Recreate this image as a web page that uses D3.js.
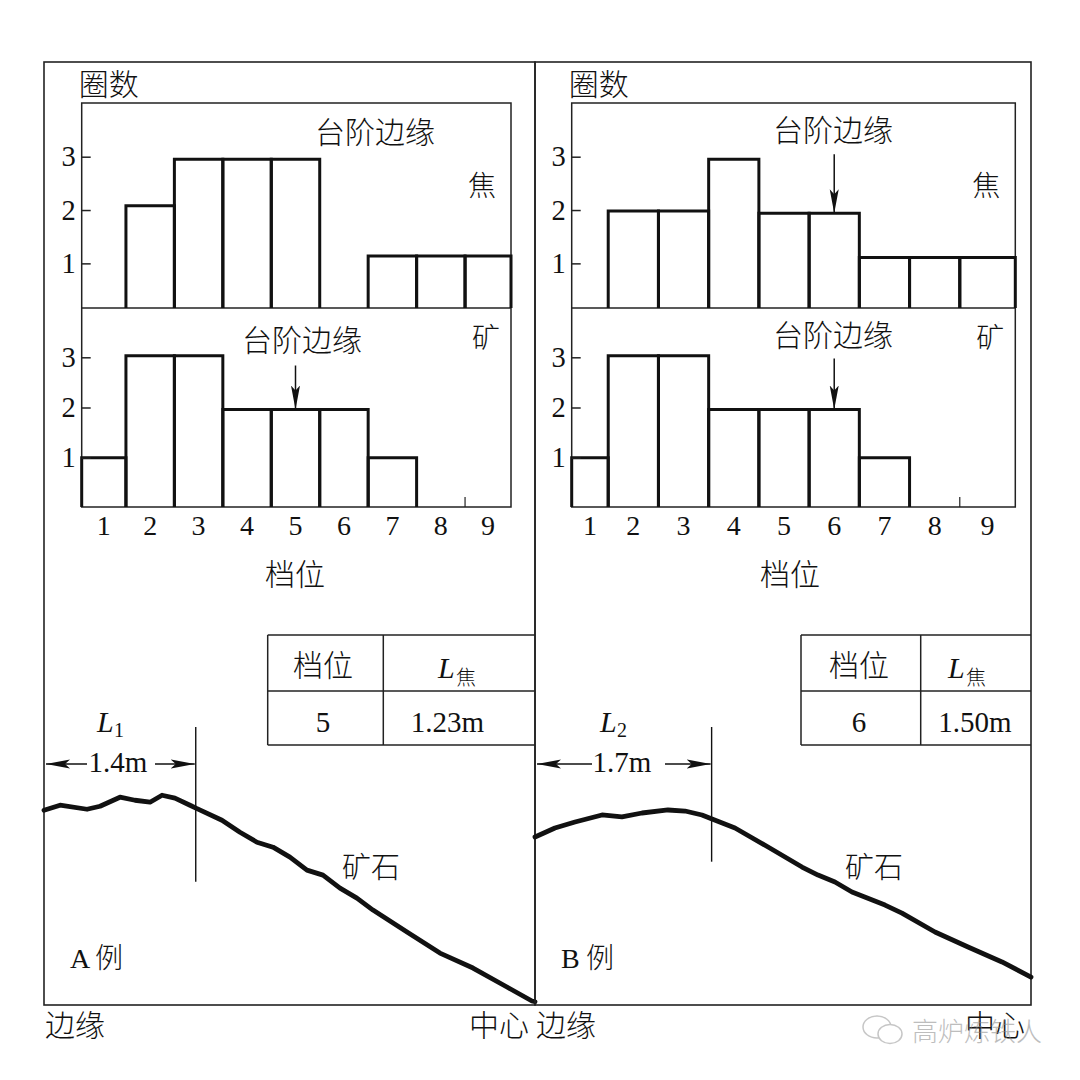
<!DOCTYPE html>
<html>
<head>
<meta charset="utf-8">
<script src="https://cdn.jsdelivr.net/npm/d3@7"></script>
<style>body{margin:0;background:#fff}</style>
</head>
<body>
<div id="chart"></div>
<script>
// 档位 1..9, 圈数 per 档位
var bins = [1, 2, 3, 4, 5, 6, 7, 8, 9];
var yTicks = [1, 2, 3];
var cokeA = [0, 2.08, 2.95, 2.95, 2.95, 0, 1.14, 1.14, 1.14];
var oreA  = [1, 3.03, 3.03, 1.96, 1.96, 1.96, 1, 0, 0];
var cokeB = [0, 1.98, 1.98, 2.95, 1.94, 1.94, 1.11, 1.11, 1.11];
var oreB  = [1, 3.03, 3.03, 1.96, 1.96, 1.96, 1, 0, 0];

var tableHead = ["档位", "L", "焦"];
var tableA = ["5", "1.23m"];
var tableB = ["6", "1.50m"];

// 台阶边缘 distance from the wall, m
var L1 = 1.4, L2 = 1.7;

// ore surface profiles: [distance from wall m, height m]
var profA = [[0,1.797],[0.148,1.843],[0.397,1.806],[0.517,1.834],[0.701,1.917],[0.839,1.889],
  [0.978,1.871],[1.089,1.935],[1.208,1.908],[1.347,1.843],[1.402,1.816],[1.642,1.705],
  [1.808,1.594],[1.965,1.502],[2.113,1.456],[2.269,1.364],[2.426,1.244],[2.574,1.198],
  [2.731,1.078],[2.887,0.986],[3.035,0.876],[3.349,0.673],[3.653,0.479],[3.958,0.341],
  [4.271,0.166],[4.502,0.037],[4.53,0.03]];
var profB = [[0,1.617],[0.192,1.704],[0.385,1.761],[0.645,1.829],[0.837,1.810],[1.030,1.848],
  [1.280,1.877],[1.444,1.867],[1.607,1.829],[1.704,1.790],[1.925,1.704],[2.243,1.521],
  [2.570,1.328],[2.724,1.251],[2.887,1.184],[3.051,1.088],[3.369,0.962],[3.532,0.885],
  [3.850,0.703],[4.168,0.558],[4.495,0.414],[4.774,0.269]];

var serif = "'Liberation Serif','Times New Roman',serif";
var cjk = "'Noto Sans CJK SC','Noto Sans CJK JP',sans-serif";
var ink = "#111";

var svg = d3.select("#chart").append("svg")
    .attr("width", 1080)
    .attr("height", 1080);
svg.append("rect").attr("width", 1080).attr("height", 1080).attr("fill", "#fff");

var defs = svg.append("defs");
defs.append("marker")
    .attr("id", "arr")
    .attr("viewBox", "0 0 24 10")
    .attr("refX", 24).attr("refY", 5)
    .attr("markerWidth", 24).attr("markerHeight", 10)
    .attr("markerUnits", "userSpaceOnUse")
    .attr("orient", "auto")
  .append("path")
    .attr("d", "M0,0.5 L24,5 L0,9.5 L5,5 z")
    .attr("fill", ink);

function txt(g, s, x, y, size, font, anchor) {
  var t = g.append("text")
    .attr("x", x).attr("y", y)
    .attr("font-size", size)
    .attr("font-family", font)
    .attr("text-anchor", anchor || "start")
    .attr("fill", ink)
    .text(s);
  if (font === cjk) t.attr("font-weight", 300);
  return t;
}

function drawPanel(p) {
  var g = svg.append("g");

  g.append("rect")
    .attr("x", p.left).attr("y", 62)
    .attr("width", p.right - p.left).attr("height", 1005 - 62)
    .attr("fill", "none").attr("stroke", "#222").attr("stroke-width", 1.6);

  var x = d3.scaleBand().domain(bins).range([p.bandL, p.bandR]).padding(0);
  var binL = function(d) { return d === bins[0] ? p.boxL : x(d); };
  var binR = function(d) { return d === bins[bins.length - 1] ? p.boxR : x(d) + x.bandwidth(); };
  var yCoke = d3.scaleLinear().domain([0, 3]).range([316.7, 156.7]);
  var yOre = d3.scaleLinear().domain([0, 3]).range([507.9, 357.3]);

  // frame of the two histograms
  g.append("rect")
    .attr("x", p.boxL).attr("y", 103)
    .attr("width", p.boxR - p.boxL).attr("height", 507 - 103)
    .attr("fill", "none").attr("stroke", "#222").attr("stroke-width", 1.5);
  g.append("line")
    .attr("x1", p.boxL).attr("x2", p.boxR).attr("y1", 308).attr("y2", 308)
    .attr("stroke", "#222").attr("stroke-width", 1.5);

  [[p.coke, yCoke, 308], [p.ore, yOre, 507]].forEach(function(s) {
    var vals = s[0], y = s[1], base = s[2];
    var data = bins.map(function(b, i) { return {bin: b, v: vals[i]}; })
      .filter(function(d) { return d.v > 0; });
    g.selectAll(null).data(data).enter().append("path")
      .attr("d", function(d) {
        return "M" + binL(d.bin) + "," + base + "V" + y(d.v) + "H" + binR(d.bin) + "V" + base;
      })
      .attr("fill", "none").attr("stroke", ink).attr("stroke-width", 3)
      .attr("stroke-linejoin", "miter");
  });

  [yCoke, yOre].forEach(function(y) {
    var ax = g.append("g")
      .attr("transform", "translate(" + p.boxL + ",0)")
      .call(d3.axisLeft(y).tickValues(yTicks).tickSizeInner(-9).tickSizeOuter(0)
        .tickPadding(6).tickFormat(d3.format("d")));
    ax.select(".domain").remove();
    ax.selectAll("line").attr("stroke", "#222").attr("stroke-width", 1.5);
    ax.selectAll("text").attr("font-family", serif).attr("font-size", 28.5).attr("fill", ink);
  });

  // 档位 labels
  g.selectAll(null).data(bins).enter().append("text")
    .attr("x", function(d) { return (binL(d) + binR(d)) / 2; })
    .attr("y", 535)
    .attr("text-anchor", "middle")
    .attr("font-family", serif).attr("font-size", 28).attr("fill", ink)
    .text(function(d) { return d; });
  g.append("line")
    .attr("x1", x(9)).attr("x2", x(9)).attr("y1", 497).attr("y2", 507)
    .attr("stroke", "#222").attr("stroke-width", 1.2);

  txt(g, "圈数", p.boxL - 3, 95, 30, cjk);
  txt(g, "台阶边缘", p.stepCokeX, p.stepCokeY, 30, cjk);
  txt(g, "焦", p.boxR - 43, 196, 28, cjk);
  txt(g, "台阶边缘", p.stepOreX, p.stepOreY, 30, cjk);
  txt(g, "矿", p.boxR - 39, 348, 28, cjk);
  txt(g, "档位", p.axisTitleX, 585, 30, cjk);

  p.arrows.forEach(function(a) {
    var y = a.chart === "coke" ? yCoke : yOre;
    var vals = a.chart === "coke" ? p.coke : p.ore;
    var cx = (binL(a.bin) + binR(a.bin)) / 2;
    var tip = y(vals[bins.indexOf(a.bin)]);
    g.append("line")
      .attr("x1", cx).attr("x2", cx).attr("y1", tip - a.len).attr("y2", tip)
      .attr("stroke", ink).attr("stroke-width", 1.5)
      .attr("marker-end", "url(#arr)");
  });

  // table
  var t = p.table;
  [635, 691, 745].forEach(function(yy) {
    g.append("line").attr("x1", t.x0).attr("x2", p.right).attr("y1", yy).attr("y2", yy)
      .attr("stroke", "#222").attr("stroke-width", 1.5);
  });
  [t.x0, t.x1].forEach(function(xx) {
    g.append("line").attr("x1", xx).attr("x2", xx).attr("y1", 635).attr("y2", 745)
      .attr("stroke", "#222").attr("stroke-width", 1.5);
  });
  txt(g, tableHead[0], t.c0, 676, 30, cjk, "middle");
  txt(g, tableHead[1], t.lx, 678, 30, serif).attr("font-style", "italic");
  txt(g, tableHead[2], t.lx + 18, 685, 20, cjk);
  txt(g, t.vals[0], t.c0, 732, 29, serif, "middle");
  txt(g, t.vals[1], t.c1, 732, 29, serif, "middle");

  // surface profile
  var xs = d3.scaleLinear().domain([0, p.radius]).range([p.left, p.right]);
  var k = (p.right - p.left) / p.radius;
  var ys = d3.scaleLinear().domain([0, 2]).range([1005, 1005 - 2 * k]);
  g.append("path")
    .datum(p.profile)
    .attr("d", d3.line().x(function(d) { return xs(d[0]); }).y(function(d) { return ys(d[1]); }))
    .attr("fill", "none").attr("stroke", ink).attr("stroke-width", 4.8)
    .attr("stroke-linejoin", "round").attr("stroke-linecap", "round");

  var xl = xs(p.L);
  g.append("line").attr("x1", xl).attr("x2", xl).attr("y1", 727).attr("y2", p.dimBottom)
    .attr("stroke", ink).attr("stroke-width", 1.4);
  g.append("line").attr("x1", p.arrL0).attr("x2", p.left + 2).attr("y1", 764).attr("y2", 764)
    .attr("stroke", ink).attr("stroke-width", 1.5).attr("marker-end", "url(#arr)");
  g.append("line").attr("x1", p.arrR0).attr("x2", xl - 1).attr("y1", 764).attr("y2", 764)
    .attr("stroke", ink).attr("stroke-width", 1.5).attr("marker-end", "url(#arr)");
  txt(g, p.L.toFixed(1) + "m", p.dimTextX, 772, 29, serif, "middle");
  txt(g, "L", p.lLabelX, 732, 30, serif).attr("font-style", "italic");
  txt(g, p.sub, p.lLabelX + 17, 737, 20, serif);

  txt(g, "矿石", p.oreTextX, 878, 29, cjk);
  txt(g, p.tag, p.left + 26, 968, 28, serif);
  txt(g, "例", p.left + 51, 968, 28, cjk);
  txt(g, "边缘", p.left + 1, 1036, 30, cjk);
  txt(g, "中心", p.right - 66, 1036, 30, cjk);
}

drawPanel({
  left: 44, right: 535, boxL: 81.7, boxR: 511, bandL: 77.5, bandR: 513.5,
  coke: cokeA, ore: oreA,
  stepCokeX: 315, stepCokeY: 143, stepOreX: 242, stepOreY: 351, axisTitleX: 265,
  arrows: [{chart: "ore", bin: 5, len: 44}],
  table: {x0: 267.7, x1: 383.3, c0: 323, c1: 447.5, lx: 438, vals: tableA},
  radius: 4.53, profile: profA, L: L1, sub: "1", dimBottom: 881.7,
  arrL0: 87, arrR0: 155, dimTextX: 118, lLabelX: 97,
  oreTextX: 342, tag: "A"
});

drawPanel({
  left: 535, right: 1031, boxL: 571.7, boxR: 1015.3, bandL: 558, bandR: 1010,
  coke: cokeB, ore: oreB,
  stepCokeX: 773, stepCokeY: 141, stepOreX: 773, stepOreY: 346, axisTitleX: 760,
  arrows: [{chart: "coke", bin: 6, len: 59}, {chart: "ore", bin: 6, len: 51}],
  table: {x0: 801, x1: 920.7, c0: 859, c1: 975, lx: 948, vals: tableB},
  radius: 4.774, profile: profB, L: L2, sub: "2", dimBottom: 861.7,
  arrL0: 592, arrR0: 665, dimTextX: 622, lLabelX: 600,
  oreTextX: 845, tag: "B"
});

// watermark (overlaps 中心 as in the source image)
var wm = svg.append("g").attr("opacity", 0.55);
wm.append("ellipse").attr("cx", 877).attr("cy", 1027).attr("rx", 14).attr("ry", 11)
  .attr("fill", "#fff").attr("stroke", "#999").attr("stroke-width", 1.5);
wm.append("ellipse").attr("cx", 890).attr("cy", 1034).attr("rx", 12).attr("ry", 9.5)
  .attr("fill", "#fff").attr("stroke", "#999").attr("stroke-width", 1.5);
wm.append("text").attr("x", 912).attr("y", 1041)
  .attr("font-family", cjk).attr("font-size", 26).attr("font-weight", 300).attr("fill", "#888")
  .text("高炉炼铁人");
</script>
</body>
</html>
